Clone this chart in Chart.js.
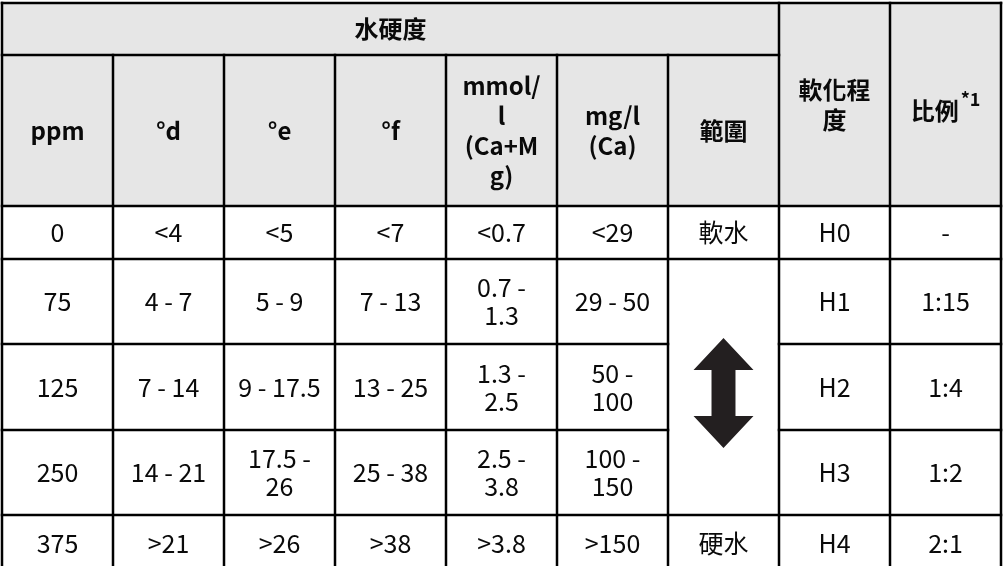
<!DOCTYPE html>
<html>
<head>
<meta charset="utf-8">
<script src="https://cdn.jsdelivr.net/npm/chart.js@4/dist/chart.umd.min.js"></script>
<style>
    body { margin: 0; background: #fff; }
    #wrap { width: 1003px; height: 566px; position: relative; }
</style>
</head>
<body>
<div id="wrap"><canvas id="hardnessTable"></canvas></div>
<script>
// Table content
const groupLabel = '水硬度';
const unitLabels = ['ppm', '°d', '°e', '°f', 'mmol/\nl\n(Ca+M\ng)', 'mg/l\n(Ca)', '範圍'];
const softLabel = '軟化程\n度';
const ratioLabel = '比例';
const ratioNote = '*1';

const ppmValues = ['0', '75', '125', '250', '375'];
const dhValues = ['<4', '4 - 7', '7 - 14', '14 - 21', '>21'];
const ehValues = ['<5', '5 - 9', '9 - 17.5', '17.5 -\n26', '>26'];
const fhValues = ['<7', '7 - 13', '13 - 25', '25 - 38', '>38'];
const mmolValues = ['<0.7', '0.7 -\n1.3', '1.3 -\n2.5', '2.5 -\n3.8', '>3.8'];
const mglValues = ['<29', '29 - 50', '50 -\n100', '100 -\n150', '>150'];
const waterTypes = ['軟水', '硬水'];
const levels = ['H0', 'H1', 'H2', 'H3', 'H4'];
const ratios = ['-', '1:15', '1:4', '1:2', '2:1'];

// Layout (table units: one column = 1 on x, rows in y units)
const colCount = 9;
const rowHeights = [52, 151, 53, 85, 86, 85, 57];
const rowEdges = [0];
rowHeights.forEach(h => rowEdges.push(rowEdges[rowEdges.length - 1] + h));
const visibleBottom = 563;

const headerFill = '#e6e6e6';
const lineColor = '#000';
const textColor = '#0a0a0a';
const fontFamily = '"Noto Sans CJK TC", "Noto Sans CJK SC", sans-serif';

// build the cell list
const cells = [];
function addCell(c0, c1, r0, r1, text, bold) {
    cells.push({
        x: (c0 + c1) / 2,
        y: (rowEdges[r0] + rowEdges[r1]) / 2,
        text: text,
        bold: bold
    });
}
addCell(0, 7, 0, 1, groupLabel, true);
unitLabels.forEach((t, i) => addCell(i, i + 1, 1, 2, t, true));
addCell(7, 8, 0, 2, softLabel, true);
addCell(8, 9, 0, 2, ratioLabel, true);
cells[cells.length - 1].note = ratioNote;

const columns = [ppmValues, dhValues, ehValues, fhValues, mmolValues, mglValues];
for (let r = 0; r < ppmValues.length; r++) {
    columns.forEach((col, c) => addCell(c, c + 1, r + 2, r + 3, col[r], false));
    addCell(7, 8, r + 2, r + 3, levels[r], false);
    addCell(8, 9, r + 2, r + 3, ratios[r], false);
}
addCell(6, 7, 2, 3, waterTypes[0], false);
addCell(6, 7, 6, 7, waterTypes[1], false);

const tablePlugin = {
    id: 'tablePlugin',
    beforeDatasetsDraw(chart) {
        const { ctx, scales: { x, y } } = chart;
        ctx.save();
        ctx.fillStyle = headerFill;
        ctx.fillRect(x.getPixelForValue(0), y.getPixelForValue(0),
            x.getPixelForValue(colCount) - x.getPixelForValue(0),
            y.getPixelForValue(rowEdges[2]) - y.getPixelForValue(0));
        ctx.restore();
    },
    afterDatasetsDraw(chart) {
        const { ctx, scales: { x, y } } = chart;
        const meta = chart.getDatasetMeta(0);
        ctx.save();
        ctx.fillStyle = textColor;
        ctx.textAlign = 'center';
        ctx.textBaseline = 'middle';
        meta.data.forEach((pt, i) => {
            const cell = cells[i];
            const lh = cell.bold ? 30 : 28;
            const lines = cell.text.split('\n');
            ctx.font = (cell.bold ? 'bold ' : '') + (cell.bold ? '24px ' : '25px ') + fontFamily;
            if (cell.note) {
                const w1 = ctx.measureText(cell.text).width;
                ctx.font = 'bold 18px ' + fontFamily;
                const w2 = ctx.measureText(cell.note).width;
                const gap = 2;
                const left = pt.x - (w1 + gap + w2) / 2;
                const cy = pt.y + 6;
                ctx.textAlign = 'left';
                ctx.fillText(cell.note, left + w1 + gap, cy - 11);
                ctx.font = 'bold 24px ' + fontFamily;
                ctx.fillText(cell.text, left, cy);
                ctx.textAlign = 'center';
                return;
            }
            const top = pt.y - (lines.length - 1) * lh / 2;
            lines.forEach((line, k) => ctx.fillText(line, pt.x, top + k * lh));
        });

        // double arrow in the merged range cell
        const cx = 6.5;
        const mid = (rowEdges[3] + rowEdges[6]) / 2 + 6;
        const half = 55, head = 32, hw = 0.27, sw = 0.108;
        const px = v => x.getPixelForValue(v);
        const py = v => y.getPixelForValue(v);
        ctx.fillStyle = '#231f20';
        ctx.beginPath();
        ctx.moveTo(px(cx), py(mid - half));
        ctx.lineTo(px(cx + hw), py(mid - half + head));
        ctx.lineTo(px(cx + sw), py(mid - half + head));
        ctx.lineTo(px(cx + sw), py(mid + half - head));
        ctx.lineTo(px(cx + hw), py(mid + half - head));
        ctx.lineTo(px(cx), py(mid + half));
        ctx.lineTo(px(cx - hw), py(mid + half - head));
        ctx.lineTo(px(cx - sw), py(mid + half - head));
        ctx.lineTo(px(cx - sw), py(mid - half + head));
        ctx.lineTo(px(cx - hw), py(mid - half + head));
        ctx.closePath();
        ctx.fill();

        // grid lines
        ctx.strokeStyle = lineColor;
        ctx.lineWidth = 2.5;
        const hLine = (v, c0, c1) => {
            ctx.beginPath();
            ctx.moveTo(px(c0) - 1.25, py(v));
            ctx.lineTo(px(c1) + 1.25, py(v));
            ctx.stroke();
        };
        const vLine = (c, v0, v1) => {
            ctx.beginPath();
            ctx.moveTo(px(c), py(v0) - 1.25);
            ctx.lineTo(px(c), py(v1) + 1.25);
            ctx.stroke();
        };
        const bottom = rowEdges[rowEdges.length - 1];
        hLine(rowEdges[0], 0, colCount);
        hLine(rowEdges[1], 0, 7);
        hLine(rowEdges[2], 0, colCount);
        hLine(rowEdges[3], 0, colCount);
        [rowEdges[4], rowEdges[5]].forEach(v => { hLine(v, 0, 6); hLine(v, 7, colCount); });
        hLine(rowEdges[6], 0, colCount);
        hLine(bottom, 0, colCount);
        [0, 7, 8, 9].forEach(c => vLine(c, 0, bottom));
        [1, 2, 3, 4, 5, 6].forEach(c => vLine(c, rowEdges[1], bottom));
        ctx.restore();
    }
};

const ctx = document.getElementById('hardnessTable').getContext('2d');
const hardnessTable = new Chart(ctx, {
    type: 'scatter',
    data: {
        datasets: [{
            data: cells.map(c => ({ x: c.x, y: c.y })),
            pointRadius: 0,
            pointHoverRadius: 0
        }]
    },
    options: {
        responsive: true,
        maintainAspectRatio: false,
        animation: false,
        events: [],
        layout: { padding: { left: 2, right: 2, top: 3, bottom: 0 } },
        plugins: {
            legend: { display: false },
            tooltip: { enabled: false }
        },
        scales: {
            x: { type: 'linear', display: false, min: 0, max: colCount },
            y: { type: 'linear', display: false, min: 0, max: visibleBottom, reverse: true }
        }
    },
    plugins: [tablePlugin]
});
</script>
</body>
</html>
